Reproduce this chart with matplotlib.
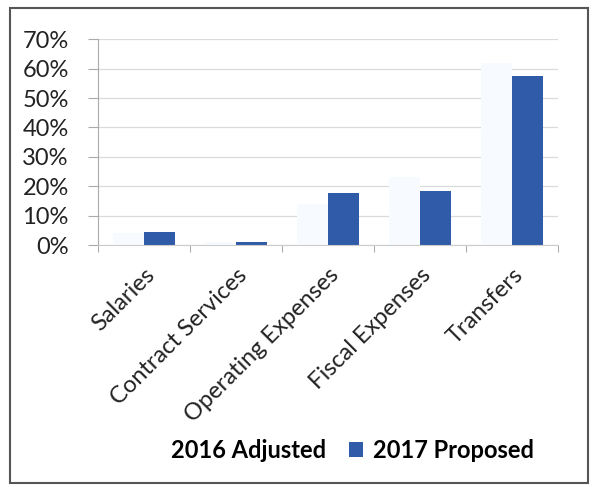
import numpy as np
import matplotlib.pyplot as plt
from matplotlib.patches import Patch, Rectangle
from matplotlib.transforms import ScaledTranslation

categories = ["Salaries", "Contract Services", "Operating Expenses",
              "Fiscal Expenses", "Transfers"]
adjusted_2016 = [0.04, 0.01, 0.14, 0.23, 0.62]
proposed_2017 = [0.045, 0.009, 0.177, 0.185, 0.575]
yticks = [0, 0.1, 0.2, 0.3, 0.4, 0.5, 0.6, 0.7]

plt.rcParams['font.family'] = ['Lato', 'DejaVu Sans']

fig = plt.figure(figsize=(5.92, 4.87), dpi=100)
ax = fig.add_axes([0.1655, 0.4969, 0.777, 0.4224])

x = np.arange(len(categories))
w = 1 / 3
ax.bar(x - w / 2, adjusted_2016, w, color="#f7fafe", zorder=2)
ax.bar(x + w / 2, proposed_2017, w, color="#2f5ba8", zorder=2)

ax.set_xlim(-0.5, len(categories) - 0.5)
ax.set_ylim(0, 0.7)
ax.set_yticks(yticks)
ax.set_yticklabels(["%d%%" % round(t * 100) for t in yticks], fontsize=17,
                   color="#222222")
ax.grid(axis="y", color="#dadada", lw=0.9, zorder=1)

# category labels sit at the centers, tick marks at the boundaries
ax.set_xticks(x)
ax.set_xticklabels(categories, rotation=45, ha="right", va="top",
                   rotation_mode="anchor", fontsize=17, color="#222222")
shift = ScaledTranslation(2 / 100, 0, fig.dpi_scale_trans)
for lbl in ax.get_xticklabels():
    lbl.set_transform(lbl.get_transform() + shift)
ax.set_xticks(np.arange(-0.5, len(categories)), minor=True)
ax.tick_params(axis="x", which="major", length=0, pad=14)
ax.tick_params(axis="x", which="minor", length=5, color="#999999")
ax.tick_params(axis="y", length=7, color="#aaaaaa", pad=14)

for s in ["top", "right"]:
    ax.spines[s].set_visible(False)
ax.spines["left"].set_color("#aaaaaa")
ax.spines["bottom"].set_color("#cccccc")

handles = [Patch(facecolor="white", edgecolor="none"),
           Patch(facecolor="#2f5ba8", edgecolor="none")]
fig.legend(handles, ["2016 Adjusted", "2017 Proposed"], loc="center",
           bbox_to_anchor=(0.575, 0.075), ncol=2, frameon=False,
           prop={"size": 17, "weight": "bold"}, handlelength=0.6,
           handleheight=0.6, handletextpad=0.4, columnspacing=1.0)

# outer frame
fig.patches.append(Rectangle((10 / 592, 4 / 487), 578 / 592, 475 / 487,
                             transform=fig.transFigure, fill=False,
                             edgecolor="#555555", lw=1.5))

fig.savefig("out.png", dpi=100)
